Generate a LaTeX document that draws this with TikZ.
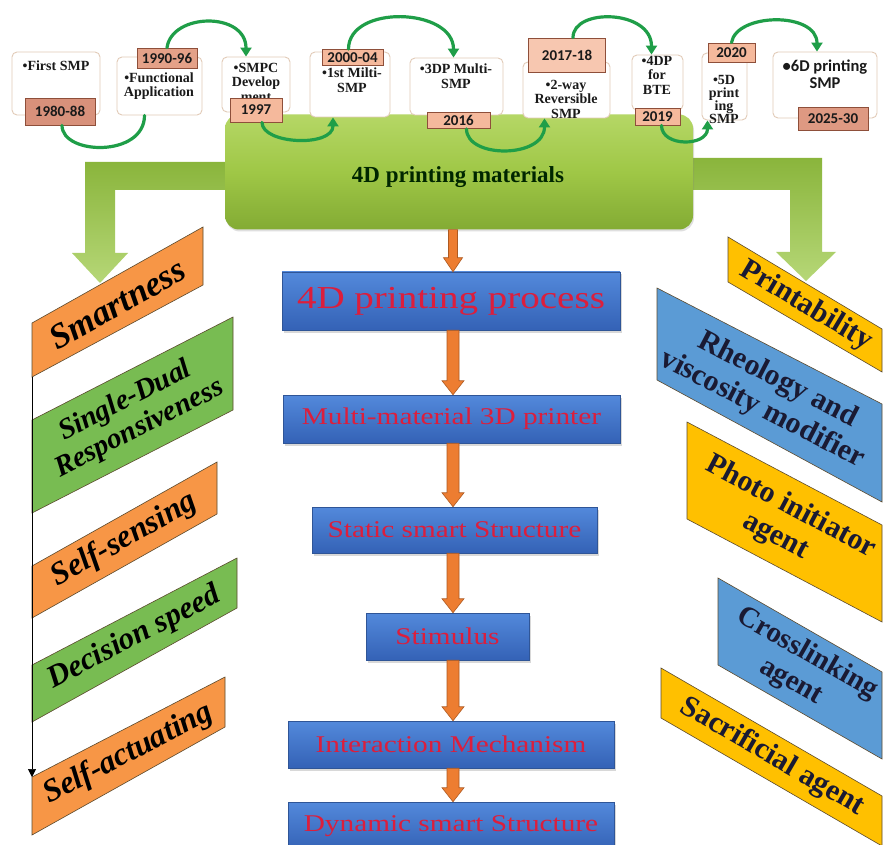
\documentclass[tikz,border=0pt]{standalone}
\usepackage{fontspec}
\setmainfont{Liberation Serif}
\newfontfamily\wideserif{Liberation Serif}[FakeStretch=1.22]
\newfontfamily\labelsans{Carlito}
\usetikzlibrary{calc,shadows,arrows.meta}

\definecolor{arcgreen}{HTML}{1F9E48}
\definecolor{tlborder}{HTML}{E2CBB8}
\definecolor{yearlight}{HTML}{F5B99C}
\definecolor{yeardark}{HTML}{D8917B}
\definecolor{yearborder}{HTML}{8E4F3A}
\definecolor{tltext}{HTML}{1A1A1A}
\definecolor{procTop}{HTML}{5389DB}
\definecolor{procBot}{HTML}{3462B6}
\definecolor{procborder}{HTML}{2F5597}
\definecolor{proctext}{HTML}{DC1E3C}
\definecolor{arrorange}{HTML}{ED7D31}
\definecolor{arrdark}{HTML}{AE5A21}
\definecolor{lorange}{HTML}{F79646}
\definecolor{lgreen}{HTML}{78BC52}
\definecolor{ryellow}{HTML}{FFC000}
\definecolor{rblue}{HTML}{5B9BD5}
\definecolor{paraborder}{HTML}{5B4A2E}
\definecolor{matTop}{HTML}{B5D766}
\definecolor{matMid}{HTML}{9FC746}
\definecolor{matBot}{HTML}{83AB34}
\definecolor{bandTop}{HTML}{8AB53C}
\definecolor{bandBot}{HTML}{B6D777}
\definecolor{rtext}{HTML}{1A1A33}

% orange block arrow between two stacked boxes, along the vertical axis
\newcommand\flowarrow[3][6pt]{%
  \path[orarr] let \p1=(#2.south -| axis), \p2=(#3.north -| axis) in
    (\x1-#1,\y1) -- (\x1+#1,\y1) -- (\x1+#1,\y2+14pt) -- (\x1+#1+5pt,\y2+14pt)
    -- (\x1,\y2) -- (\x1-#1-5pt,\y2+14pt) -- (\x1-#1,\y2+14pt) -- cycle;}

\begin{document}
\begin{tikzpicture}[x=1pt,y=-1pt,
  tlbox/.style={draw=tlborder, fill=white, rounded corners=5pt, line width=0.9pt, inner sep=0pt},
  tltxt/.style={font=\bfseries\fontsize{14}{14.5}\selectfont, align=center, text=tltext, inner sep=0pt},
  year/.style={draw=yearborder, fill=yearlight, line width=0.8pt, inner sep=0pt,
    font=\labelsans\bfseries\fontsize{15}{16}\selectfont, text=tltext},
  garc/.style={draw=arcgreen, line width=3.2pt, line cap=round},
  gtip/.style={-{Triangle[length=9pt,width=11pt]}},
  proc/.style={draw=procborder, line width=0.5pt, top color=procTop, bottom color=procBot,
    drop shadow={opacity=0.3, shadow xshift=1.5pt, shadow yshift=-2.5pt},
    text=proctext, font=\wideserif\fontsize{24}{26}\selectfont, inner sep=0pt},
  orarr/.style={fill=arrorange, draw=arrdark, line width=0.6pt},
  lpar/.style={draw=paraborder, line width=0.6pt},
  ltxt/.style={font=\bfseries\itshape, text=black, align=center, inner sep=0pt},
  rtxt/.style={font=\bfseries, text=rtext, align=center, inner sep=0pt},
  band/.style={top color=bandTop, bottom color=bandBot},
]
\useasboundingbox (0,0) rectangle (884,845);
\clip (0,0) rectangle (884,845);
\fill[white] (0,0) rectangle (884,845);
\coordinate (axis) at (453,0);

% ---------- left column: smart properties ----------
\path[lpar, fill=lorange] (32,323) -- (203,227) -- (203,285) -- (32,377) coordinate (sm-bl) -- cycle;
\node[ltxt, rotate=29.3, font=\bfseries\itshape\fontsize{35}{35}\selectfont] (smart) at (117.5,304) {Smartness};

\path[lpar, fill=lgreen] (32,420) -- (233,317) -- (233,410) -- (32,513) -- cycle;
\node[ltxt, rotate=27.1, font=\bfseries\itshape\fontsize{29}{31}\selectfont] (dual) at (132.5,415) {Single-Dual\\Responsiveness};

\path[lpar, fill=lorange] (32,566) -- (217,462) -- (217,514) -- (32,618) -- cycle;
\node[ltxt, rotate=29.4, font=\bfseries\itshape\fontsize{32}{32}\selectfont] (sense) at (124.5,540) {Self-sensing};

\path[lpar, fill=lgreen] (32,665) -- (237,558) -- (237,608) -- (32,722) -- cycle;
\node[ltxt, rotate=27.6, font=\bfseries\itshape\fontsize{31}{31}\selectfont] (speed) at (134.5,638) {Decision speed};

\path[lpar, fill=lorange] (32,777) coordinate (act-tl) -- (225,677) -- (225,727) -- (32,835) -- cycle;
\node[ltxt, rotate=27.4, font=\bfseries\itshape\fontsize{32}{32}\selectfont] (actuate) at (128.5,754) {Self-actuating};

\draw[line width=0.7pt, -{Triangle[length=8pt,width=8pt]}] (sm-bl) -- (act-tl);

% ---------- right column: printability requirements ----------
\path[lpar, fill=ryellow] (728,237) -- (882,329) -- (882,372) -- (728,282) -- cycle;
\node[rtxt, rotate=-30.9, font=\bfseries\fontsize{30}{30}\selectfont] (print) at (806,306) {Printability};

\path[lpar, fill=rblue] (657,288) -- (882,404) -- (882,502) -- (657,380) -- cycle;
\node[rtxt, rotate=-27.3, font=\bfseries\fontsize{30}{33}\selectfont] (rheo) at (770,395) {Rheology and\\viscosity modifier};

\path[lpar, fill=ryellow] (687,422) -- (882,525) -- (882,622) -- (687,519) -- cycle;
\node[rtxt, rotate=-27.8, font=\bfseries\fontsize{30}{33}\selectfont] (photo) at (783,522) {Photo initiator\\agent};

\path[lpar, fill=rblue] (718,578) -- (882,672) -- (882,759) -- (718,665) -- cycle;
\node[rtxt, rotate=-29.8, font=\bfseries\fontsize{29}{32}\selectfont] (cross) at (799,668) {Crosslinking\\agent};

\path[lpar, fill=ryellow] (661,668) -- (882,796) -- (882,846) -- (661,718) -- cycle;
\node[rtxt, rotate=-30.1, font=\bfseries\fontsize{30}{30}\selectfont] (sacr) at (772,757) {Sacrificial agent};

% ---------- green branch arrows ----------
\path[band] (230,162) -- (85,162) -- (85,253) -- (72,253) -- (100,283) -- (128,253)
  -- (115,253) -- (115,190) -- (230,190) -- cycle;
\path[band] (688,158) -- (822,158) -- (822,252) -- (836,252) -- (806,281) -- (776,252)
  -- (790,252) -- (790,190) -- (688,190) -- cycle;

% ---------- materials block ----------
\node[rounded corners=14pt, minimum width=468pt, minimum height=115pt, inner sep=0pt,
  top color=matTop, bottom color=matBot, middle color=matMid,
  drop shadow={opacity=0.25, shadow xshift=1pt, shadow yshift=-2pt}] (mat) at (459,172) {};
\node[font=\bfseries\fontsize{23}{24}\selectfont, text=black!85!green, inner sep=0pt] (matlbl) at (458,177) {4D printing materials};

% ---------- process chain ----------
\node[proc, minimum width=338pt, minimum height=58pt, font=\wideserif\fontsize{32}{34}\selectfont] (p1) at (451,301) {4D printing process};
\node[proc, minimum width=337pt, minimum height=48pt] (p2) at (451.5,419) {Multi-material 3D printer};
\node[proc, minimum width=285pt, minimum height=46pt] (p3) at (454.5,530) {Static smart Structure};
\node[proc, minimum width=163pt, minimum height=47pt] (p4) at (447.5,636.5) {Stimulus};
\node[proc, minimum width=326pt, minimum height=47pt] (p5) at (451,744.5) {Interaction Mechanism};
\node[proc, minimum width=326pt, minimum height=48pt] (p6) at (451,826) {Dynamic smart Structure};

\flowarrow[4.5pt]{mat}{p1}
\flowarrow{p1}{p2}
\flowarrow{p2}{p3}
\flowarrow{p3}{p4}
\flowarrow{p4}{p5}
\flowarrow{p5}{p6}

% ---------- timeline boxes ----------
\node[tlbox, minimum width=88pt, minimum height=63pt] (b1) at (56,83.5) {};
\node[tlbox, minimum width=85pt, minimum height=58pt] (b2) at (159.5,86) {};
\node[tlbox, minimum width=68pt, minimum height=55pt] (b3) at (256,84.5) {};
\node[tlbox, minimum width=80pt, minimum height=65pt] (b4) at (350,84.5) {};
\node[tlbox, minimum width=93pt, minimum height=57pt] (b5) at (456.5,86.5) {};
\node[tlbox, minimum width=87pt, minimum height=56pt] (b6) at (566.5,90) {};
\node[tlbox, minimum width=51pt, minimum height=55pt] (b7) at (657.5,82.5) {};
\node[tlbox, minimum width=45pt, minimum height=67pt] (b8) at (724.5,86.5) {};
\node[tlbox, minimum width=104pt, minimum height=66pt] (b9) at (825,85) {};

\node[tltxt] (t1) at (56,66) {•First SMP};
\node[tltxt] (t2) at (159,86) {•Functional\\Application};
\node[tltxt] (t3) at (256,82) {•SMPC\\Develop\\ment};
\node[tltxt] (t4) at (352,80) {•1st Milti-\\SMP};
\node[tltxt] (t5) at (456,76) {•3DP Multi-\\SMP};
\node[tltxt] (t6) at (566,99) {•2-way\\Reversible\\SMP};
\node[tltxt] (t7) at (657,75) {•4DP\\for\\BTE};
\node[tltxt, font=\bfseries\fontsize{14}{13}\selectfont] (t8) at (724,99) {•5D\\print\\ing\\SMP};
\node[tltxt, font=\labelsans\bfseries\fontsize{16.5}{17}\selectfont] (t9) at (825,74) {•6D printing\\SMP};

% ---------- year tags ----------
\node[year, fill=yeardark, minimum width=70pt, minimum height=27pt] (y1) at (60,111.5) {1980-88};
\node[year, fill=yeardark!60!yearlight, minimum width=60pt, minimum height=20pt] (y2) at (167,58) {1990-96};
\node[year, minimum width=52pt, minimum height=24pt] (y3) at (256,110) {1997};
\node[year, minimum width=61pt, minimum height=16pt] (y4) at (352.5,57.5) {2000-04};
\node[year, minimum width=63pt, minimum height=16pt] (y5) at (458.5,120.5) {2016};
\node[year, fill=yearlight!80!white, minimum width=77pt, minimum height=34pt] (y6) at (567,55) {2017-18};
\node[year, minimum width=45pt, minimum height=17pt] (y7) at (657.5,116.5) {2019};
\node[year, minimum width=47pt, minimum height=19pt] (y8) at (731.5,52.5) {2020};
\node[year, fill=yeardark!80!yearlight, minimum width=70pt, minimum height=23pt] (y9) at (833,118.5) {2025-30};

% ---------- timeline links ----------
\draw[garc] ([xshift=2pt]y1.south) .. controls +(0,30) and +(0,42) .. ([xshift=-15pt]b2.south);
\draw[garc, gtip] (y2.north) .. controls +(5,-35) and +(0,-45) .. ([xshift=-10pt]b3.north);
\draw[garc, gtip] ([xshift=6pt]y3.south) .. controls +(0,22) and +(0,30) .. ([xshift=-17pt]b4.south);
\draw[garc, gtip] ([xshift=-4pt]y4.north) .. controls +(0,-45) and +(0,-50) .. ([xshift=-3pt]b5.north);
\draw[garc, gtip] ([xshift=8pt]y5.south) .. controls +(0,30) and +(0,40) .. ([xshift=-22pt]b6.south);
\draw[garc, gtip] ([xshift=6pt]y6.north) .. controls +(0,-30) and +(0,-45) .. ([xshift=-6pt]b7.north);
\draw[garc, gtip] ([xshift=4pt]y7.south) .. controls +(0,22) and +(0,26) .. ([xshift=-17pt]b8.south);
\draw[garc, gtip] (y8.north) .. controls +(5,-30) and +(0,-40) .. ([xshift=-8pt]b9.north);
\end{tikzpicture}
\end{document}
